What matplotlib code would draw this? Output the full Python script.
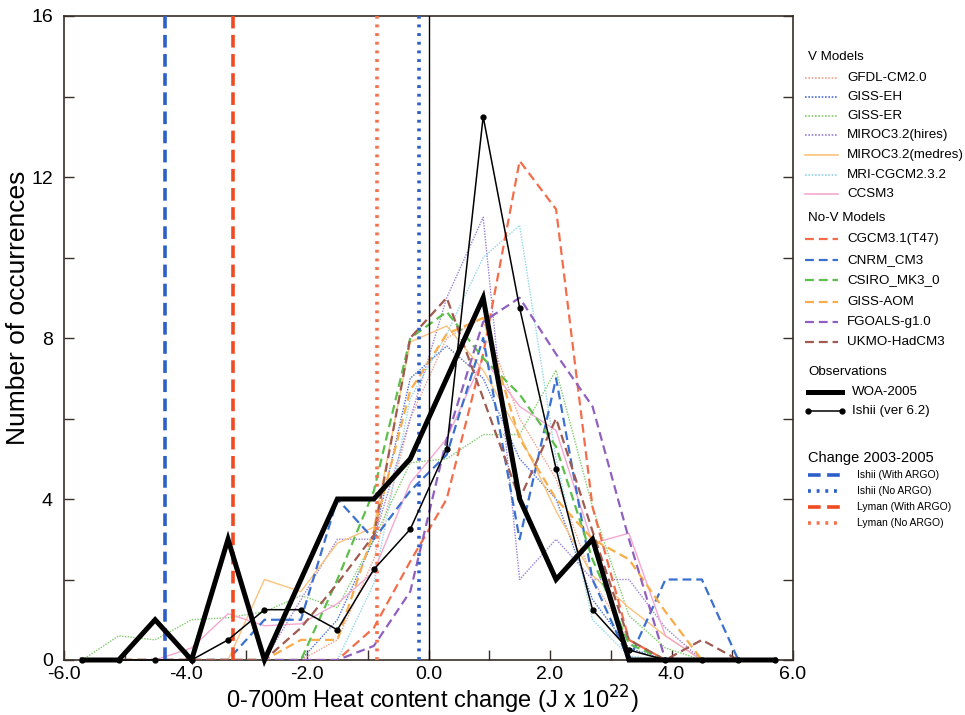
import numpy as np
import matplotlib
matplotlib.use("Agg")
import matplotlib.pyplot as plt

plt.rcParams['font.family'] = ['Liberation Sans', 'DejaVu Sans']

# bin centres (J x 10^22)
bins = [-5.7, -5.1, -4.5, -3.9, -3.3, -2.7, -2.1, -1.5, -0.9, -0.3,
        0.3, 0.9, 1.5, 2.1, 2.7, 3.3, 3.9, 4.5, 5.1, 5.7]

# V models
gfdl_cm20 = [0, 0, 0, 0, 0, 0, 0, 0.5, 2.5, 6.0, 8.0, 8.5, 6.0, 4.5, 2.0, 0.5, 0, 0, 0, 0]
giss_eh   = [0, 0, 0, 0, 0, 0, 0, 1.0, 3.0, 7.0, 7.8, 7.0, 5.0, 4.0, 1.5, 0.3, 0, 0, 0, 0]
giss_er   = [0, 0.6, 0.5, 1.0, 1.05, 1.2, 1.6, 1.3, 3.0, 4.9, 5.0, 5.6, 5.6, 7.2, 3.8, 1.1, 0.3, 0, 0, 0]
miroc_hi  = [0, 0, 0, 0, 0, 0, 1.5, 3.0, 3.0, 6.0, 9.0, 11.0, 2.0, 3.0, 2.0, 2.0, 0.8, 0, 0, 0]
miroc_med = [0, 0, 0, 0, 0, 2.0, 1.7, 2.9, 3.3, 7.9, 8.3, 7.2, 5.6, 3.7, 2.1, 1.3, 0.6, 0, 0, 0]
mri       = [0, 0, 0, 0, 0, 0, 0, 0, 1.9, 6.5, 8.1, 10.0, 10.8, 5.0, 1.0, 0.1, 0, 0, 0, 0]
ccsm3     = [0, 0, 0, 0.3, 1.15, 0.85, 0.9, 1.4, 2.2, 4.4, 5.5, 7.5, 6.3, 5.7, 2.9, 3.15, 0.6, 0, 0, 0]

# No-V models
cgcm31    = [0, 0, 0, 0, 0, 0, 0, 0, 0.8, 2.45, 4.0, 7.6, 12.4, 11.2, 3.8, 0.5, 0, 0, 0, 0]
cnrm      = [0, 0, 0, 0, 0, 1.0, 1.0, 4.0, 3.0, 4.2, 5.1, 8.0, 3.0, 7.0, 2.0, 0.0, 2.0, 2.0, 0, 0]
csiro     = [0, 0, 0, 0, 0, 0, 0, 2.0, 4.2, 8.0, 8.65, 7.5, 6.6, 5.3, 2.5, 0.4, 0, 0, 0, 0]
giss_aom  = [0, 0, 0, 0, 0, 0, 0.5, 0.5, 3.2, 6.7, 8.1, 8.5, 5.5, 4.0, 3.0, 2.5, 1.2, 0, 0, 0]
fgoals    = [0, 0, 0, 0, 0, 0, 0, 0, 0.35, 1.7, 5.5, 8.4, 9.0, 7.6, 6.3, 3.0, 0, 0, 0, 0]
ukmo      = [0, 0, 0, 0, 0, 0, 0.8, 1.9, 3.1, 8.0, 9.0, 6.5, 4.0, 6.0, 3.2, 0.5, 0, 0.5, 0, 0]

# Observations
woa2005   = [0, 0, 1, 0, 3, 0, 2, 4, 4, 5, 7, 9, 4, 2, 3, 0, 0, 0, 0, 0]
ishii62   = [0, 0, 0, 0, 0.5, 1.25, 1.25, 0.75, 2.25, 3.25, 5.25, 13.5, 8.75, 4.75, 1.25, 0.25, 0, 0, 0, 0]

# Change 2003-2005
ishii_argo = -4.33
ishii_noargo = -0.15
lyman_argo = -3.21
lyman_noargo = -0.84

xticks = [-6, -4, -2, 0, 2, 4, 6]
xticklabels = ["-6.0", "-4.0", "-2.0", "0.0", "2.0", "4.0", "6.0"]
yticks = [0, 4, 8, 12, 16]

v_models = [
    ("GFDL-CM2.0", gfdl_cm20, "#f3a088", (0, (1, 1)), 1.0),
    ("GISS-EH", giss_eh, "#4a6fd8", (0, (1, 1)), 1.0),
    ("GISS-ER", giss_er, "#80cc6c", (0, (1, 1)), 1.0),
    ("MIROC3.2(hires)", miroc_hi, "#9a80d8", (0, (1, 1)), 1.0),
    ("MIROC3.2(medres)", miroc_med, "#fbc27c", "-", 1.0),
    ("MRI-CGCM2.3.2", mri, "#8ed6e8", (0, (1, 1)), 1.0),
    ("CCSM3", ccsm3, "#f4a8d0", "-", 1.0),
]
nov_models = [
    ("CGCM3.1(T47)", cgcm31, "#f46d4a"),
    ("CNRM_CM3", cnrm, "#3a70d0"),
    ("CSIRO_MK3_0", csiro, "#5cbf4a"),
    ("GISS-AOM", giss_aom, "#f9ad4a"),
    ("FGOALS-g1.0", fgoals, "#9060c0"),
    ("UKMO-HadCM3", ukmo, "#a05a50"),
]

W, H = 965, 715
fig = plt.figure(figsize=(W / 100, H / 100), dpi=100)
L, R, T, B = 64, 793, 16, 660
ax = fig.add_axes([L / W, 1 - B / H, (R - L) / W, (B - T) / H])

dash = (0, (4, 2.2))
for name, vals, col, ls, lw in v_models:
    ax.plot(bins, vals, color=col, linestyle=ls, lw=lw, zorder=2)
for name, vals, col in nov_models:
    ax.plot(bins, vals, color=col, linestyle=dash, lw=1.6, zorder=3)

ax.axvline(0, color="black", lw=1.0, zorder=4)
ax.axvline(ishii_argo, color="#2c5fc8", lw=2.6, linestyle=(0, (3.5, 1.8)), zorder=4)
ax.axvline(ishii_noargo, color="#2c5fc8", lw=2.6, linestyle=(0, (0.8, 1.6)), zorder=4)
ax.axvline(lyman_argo, color="#f04a23", lw=2.6, linestyle=(0, (3.5, 1.8)), zorder=4)
ax.axvline(lyman_noargo, color="#f7704c", lw=2.6, linestyle=(0, (0.8, 1.6)), zorder=4)

ax.plot(bins, woa2005, color="black", lw=3.6, zorder=6, clip_on=False,
        solid_joinstyle="miter")
ax.plot(bins, ishii62, color="black", lw=1.1, marker="o", ms=3.5, zorder=7,
        clip_on=False)

ax.set_xlim(-6, 6)
ax.set_ylim(0, 16)
ax.set_xticks(xticks)
ax.set_xticklabels(xticklabels)
ax.set_xticks([-5, -3, -1, 1, 3, 5], minor=True)
ax.set_yticks(yticks)
ax.set_yticks([2, 6, 10, 14], minor=True)
ax.tick_params(axis="both", which="both", direction="in", length=7, width=1.0,
               colors="#3a2e28", labelcolor="black", labelsize=14, right=True)
ax.tick_params(axis="x", pad=4)
ax.tick_params(axis="y", pad=8)
for s in ax.spines.values():
    s.set_color("#3a2e28")
    s.set_linewidth(1.2)

fig.text(432 / W, 1 - 700 / H, "0-700m Heat content change (J x 10$^{22}$)",
         fontsize=17, ha="center", va="center")
fig.text(18 / W, 1 - 308 / H, "Number of occurrences", fontsize=19,
         ha="center", va="center", rotation=90)

# ---- legend (drawn in pixel space on a hidden axes)
lg = fig.add_axes([0, 0, 1, 1])
lg.set_xlim(0, W)
lg.set_ylim(H, 0)
lg.axis("off")
lg.patch.set_alpha(0)

FS = 9.6

def hdr(y, txt, size=FS):
    lg.text(808, y, txt, fontsize=size, va="center", ha="left")

hdr(57, "V Models")
ys = [78, 97, 116, 135, 155, 175, 194]
for (name, vals, col, ls, lw), y in zip(v_models, ys):
    lg.plot([805, 838], [y, y], color=col, linestyle=ls, lw=1.2)
    lg.text(847, y, name, fontsize=FS, va="center", ha="left")
hdr(218, "No-V Models")
ys = [239, 260, 280, 302, 322, 342]
for (name, vals, col), y in zip(nov_models, ys):
    lg.plot([805, 838], [y, y], color=col, linestyle=dash, lw=1.6)
    lg.text(847, y, name, fontsize=FS, va="center", ha="left")
hdr(372, "Observations")
lg.plot([808, 842], [392, 392], color="black", lw=3.6)
lg.text(852, 392, "WOA-2005", fontsize=FS, va="center", ha="left")
lg.plot([808, 842], [411, 411], color="black", lw=1.1, marker="o", ms=3.5,
        markevery=[0, 1])
lg.text(852, 411, "Ishii (ver 6.2)", fontsize=FS, va="center", ha="left")
hdr(458, "Change 2003-2005", size=10.5)
ch = [("Ishii (With ARGO)", "#2c5fc8", (0, (3.5, 1.8))),
      ("Ishii (No ARGO)", "#2c5fc8", (0, (0.8, 1.6))),
      ("Lyman (With ARGO)", "#f04a23", (0, (3.5, 1.8))),
      ("Lyman (No ARGO)", "#f7704c", (0, (0.8, 1.6)))]
for (name, col, ls), y in zip(ch, [475, 491, 507, 523]):
    lg.plot([808, 842], [y, y], color=col, linestyle=ls, lw=2.6)
    lg.text(857, y, name, fontsize=7.5, va="center", ha="left")

fig.savefig("out.png", dpi=100)
